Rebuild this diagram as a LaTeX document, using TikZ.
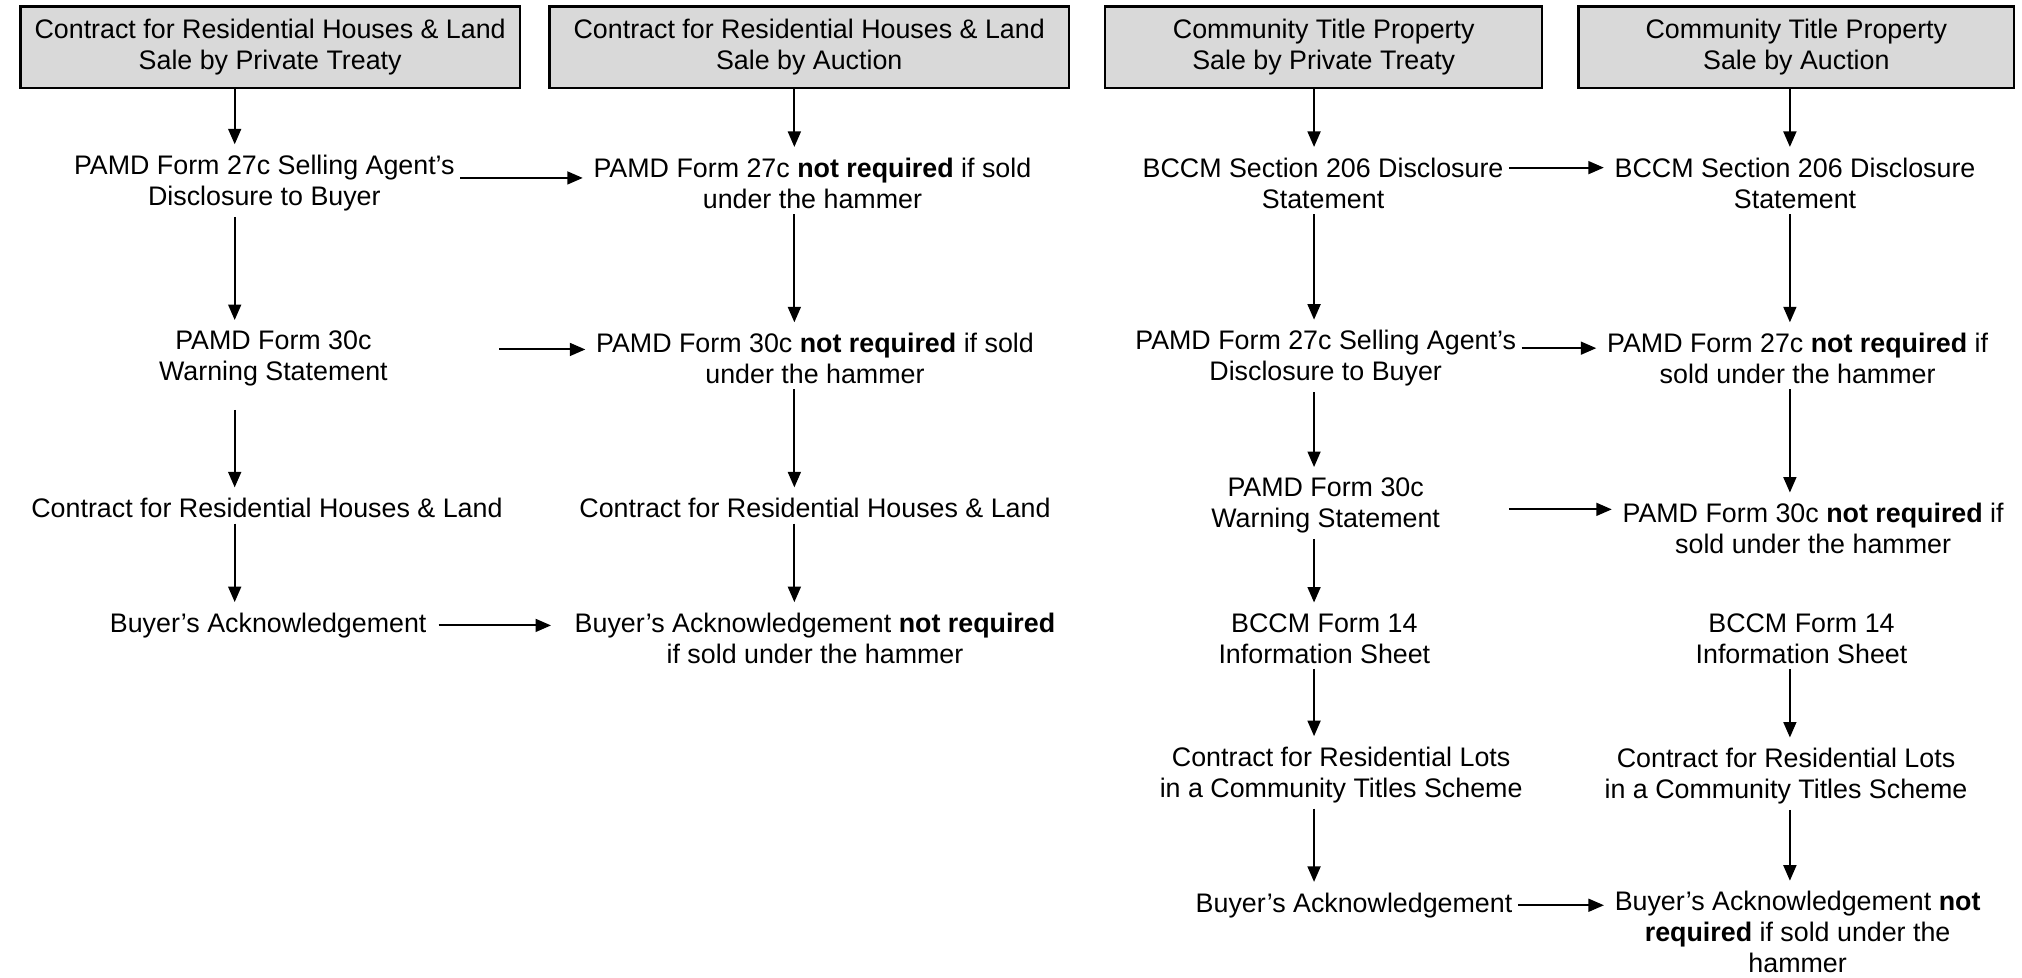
\documentclass[tikz,border=0pt]{standalone}
\usepackage{fontspec}
\setmainfont{Liberation Sans}
\usetikzlibrary{arrows.meta}

\tikzset{
  head/.style={draw, line width=0.9pt, fill=black!15, minimum height=31.5pt, align=center, inner sep=2pt},
  txt/.style={align=center, inner sep=2pt},
  arr/.style={-{Triangle[width=5pt,length=6pt]}, line width=0.75pt, shorten >=2pt},
}

\begin{document}
\begin{tikzpicture}[x=0.5pt, y=-0.5pt, font=\fontsize{10.4}{12}\selectfont]
		\useasboundingbox (0,0) rectangle (1568,757.7);
		
		% header boxes
		\node[head, minimum width=193.5pt] (h1) at (209.5,36.5) {Contract for Residential Houses \& Land\\Sale by Private Treaty};
		\node[head, minimum width=201.5pt] (h2) at (627.5,36.5) {Contract for Residential Houses \& Land\\Sale by Auction};
		\node[head, minimum width=169.5pt] (h3) at (1026.5,36.5) {Community Title Property\\Sale by Private Treaty};
		\node[head, minimum width=169pt] (h4) at (1393,36.5) {Community Title Property\\Sale by Auction};
		
		% houses & land, private treaty
		\node[txt] (a1) at (205,142) {PAMD Form 27c Selling Agent's\\Disclosure to Buyer};
		\node[txt] (a2) at (212,278) {PAMD Form 30c\\Warning Statement};
		\node[txt] (a3) at (207,394) {Contract for Residential Houses \& Land};
		\node[txt] (a4) at (208,485) {Buyer's Acknowledgement};
		
		% houses & land, auction
		\node[txt] (b1) at (630,142) {PAMD Form 27c \textbf{not required} if sold\\under the hammer};
		\node[txt] (b2) at (632,278) {PAMD Form 30c \textbf{not required} if sold\\under the hammer};
		\node[txt] (b3) at (632,394) {Contract for Residential Houses \& Land};
		\node[txt] (b4) at (632,495) {Buyer's Acknowledgement \textbf{not required}\\if sold under the hammer};
		
		% community title, private treaty
		\node[txt] (c1) at (1026,142) {BCCM Section 206 Disclosure\\Statement};
		\node[txt] (c2) at (1028,278) {PAMD Form 27c Selling Agent's\\Disclosure to Buyer};
		\node[txt] (c3) at (1028,392) {PAMD Form 30c\\Warning Statement};
		\node[txt] (c4) at (1027,495) {BCCM Form 14\\Information Sheet};
		\node[txt] (c5) at (1040,601) {Contract for Residential Lots\\in a Community Titles Scheme};
		\node[txt] (c6) at (1050,702) {Buyer's Acknowledgement};
		
		% community title, auction
		\node[txt] (d1) at (1392,142) {BCCM Section 206 Disclosure\\Statement};
		\node[txt] (d2) at (1394,278) {PAMD Form 27c \textbf{not required} if\\sold under the hammer};
		\node[txt] (d3) at (1406,410) {PAMD Form 30c \textbf{not required} if\\sold under the hammer};
		\node[txt] (d4) at (1397,495) {BCCM Form 14\\Information Sheet};
		\node[txt] (d5) at (1385,602) {Contract for Residential Lots\\in a Community Titles Scheme};
		\node[txt] (d6) at (1394,723) {Buyer's Acknowledgement \textbf{not}\\\textbf{required} if sold under the\\hammer};
		
		% x of the down arrows
		\coordinate (x1) at (182,0);
		\coordinate (x2) at (616,0);
		\coordinate (x3) at (1019,0);
		\coordinate (x4) at (1388,0);
		
		% down arrows
		\foreach \u/\v/\x in {h1/a1/x1,a1/a2/x1,a3/a4/x1,
		                      h2/b1/x2,b1/b2/x2,b2/b3/x2,b3/b4/x2,
		                      h3/c1/x3,c1/c2/x3,c2/c3/x3,c3/c4/x3,c4/c5/x3,c5/c6/x3,
		                      h4/d1/x4,d1/d2/x4,d2/d3/x4,d4/d5/x4,d5/d6/x4}
		\draw[arr] (\u.south -| \x) -- (\v.north -| \x);
		\draw[arr, shorten <=7pt] (a2.south -| x1) -- (a3.north -| x1);
		
		% across arrows
		\draw[arr] ([yshift=2pt]a1.east) -- ([yshift=2pt]a1.east -| b1.west);
		\draw[arr, shorten <=41pt] ([yshift=3.5pt]a2.east) -- ([yshift=3.5pt]a2.east -| b2.west);
		\draw[arr, shorten <=2.5pt, shorten >=7pt] (a4.east) -- (a4.east -| b4.west);
		\draw[arr] ([yshift=6pt]c1.east) -- ([yshift=6pt]c1.east -| d1.west);
		\draw[arr] ([yshift=4pt]c2.east) -- ([yshift=4pt]c2.east -| d2.west);
		\draw[arr, shorten <=24.5pt] ([yshift=-1.5pt]c3.east) -- ([yshift=-1.5pt]c3.east -| d3.west);
		\draw[arr] (c6.east) -- (c6.east -| d6.west);
\end{tikzpicture}
\end{document}
